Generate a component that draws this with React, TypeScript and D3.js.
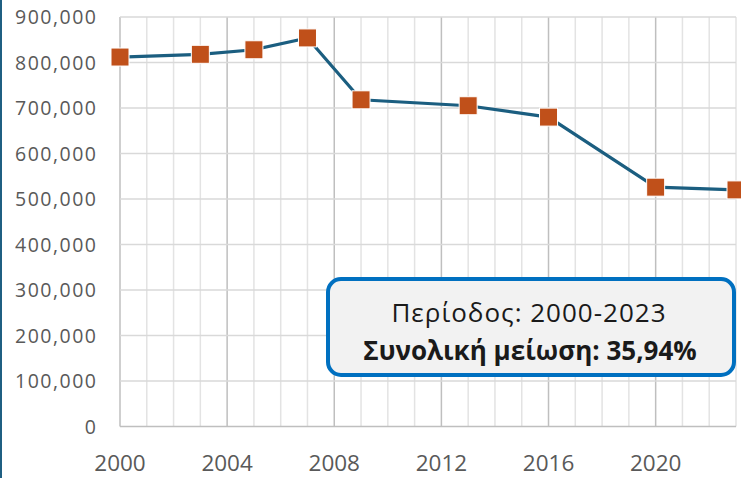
import React from 'react';
import * as d3 from 'd3';

const years = [2000, 2003, 2005, 2007, 2009, 2013, 2016, 2020, 2023];
const values = [812000, 818000, 828000, 854000, 718000, 705000, 680000, 526000, 520000];
const yTicks = [0, 100000, 200000, 300000, 400000, 500000, 600000, 700000, 800000, 900000];
const xLabels = [2000, 2004, 2008, 2012, 2016, 2020];
const noteLines = ['Περίοδος: 2000-2023', 'Συνολική μείωση: 35,94%'];

const W = 741;
const H = 478;
const FONT = "'Open Sans', 'Noto Sans', sans-serif";

export default function App() {
    const x = d3.scaleLinear().domain([2000, 2023]).range([120, 736]);
    const y = d3.scaleLinear().domain([0, 900000]).range([426.5, 17]);

    const allYears = d3.range(2000, 2024);
    const line = d3.line<number>()
        .x((_, i) => x(years[i]))
        .y((d) => y(d));

    const fmt = (v: number) => (v === 0 ? '0' : d3.format(',')(v));

    return (
        <svg width={W} height={H} style={{ position: 'absolute', left: 0, top: 0 }} fontFamily={FONT}>
            <rect x={0} y={0} width={W} height={H} fill="#fff" />
            <rect x={0} y={0} width={2} height={H} fill="#1F5F82" />

            {/* vertical grid: each year, every 4th darker */}
            {allYears.map((yr) => (
                <line
                    key={'v' + yr}
                    x1={x(yr)} x2={x(yr)} y1={y(900000)} y2={y(0)}
                    stroke={yr % 4 === 0 ? '#bfbfbf' : '#e3e3e3'}
                    strokeWidth={1.5}
                />
            ))}

            {/* horizontal grid */}
            {yTicks.map((t) => (
                <line
                    key={'h' + t}
                    x1={x(2000)} x2={x(2023)} y1={y(t)} y2={y(t)}
                    stroke={t === 0 ? '#bfbfbf' : '#d9d9d9'}
                    strokeWidth={1.5}
                />
            ))}

            {yTicks.map((t) => (
                <text
                    key={'yl' + t}
                    x={97.5} y={y(t)} dy="0.36em"
                    textAnchor="end" fontSize={19.5} letterSpacing={1.5} fill="#595959"
                >
                    {fmt(t)}
                </text>
            ))}

            {xLabels.map((t) => (
                <text
                    key={'xl' + t}
                    x={x(t)} y={471}
                    textAnchor="middle" fontSize={22.5} fill="#595959"
                >
                    {t}
                </text>
            ))}

            <path d={line(values) || ''} fill="none" stroke="#1B5E80" strokeWidth={3.2} />

            {values.map((v, i) => (
                <rect
                    key={'m' + i}
                    x={x(years[i]) - 9} y={y(v) - 9} width={18} height={18}
                    fill="#C0501A" stroke="#fff" strokeWidth={1}
                />
            ))}

            <rect x={328} y={279} width={406} height={96} rx={13} fill="#f2f2f2" stroke="#0070C0" strokeWidth={4} />
            <text x={529} y={322} textAnchor="middle" fontSize={26} letterSpacing={1} fill="#1a1a1a">
                {noteLines[0]}
            </text>
            <text x={530} y={360} textAnchor="middle" fontSize={26} fontWeight="bold" fill="#1a1a1a">
                {noteLines[1]}
            </text>
        </svg>
    );
}
